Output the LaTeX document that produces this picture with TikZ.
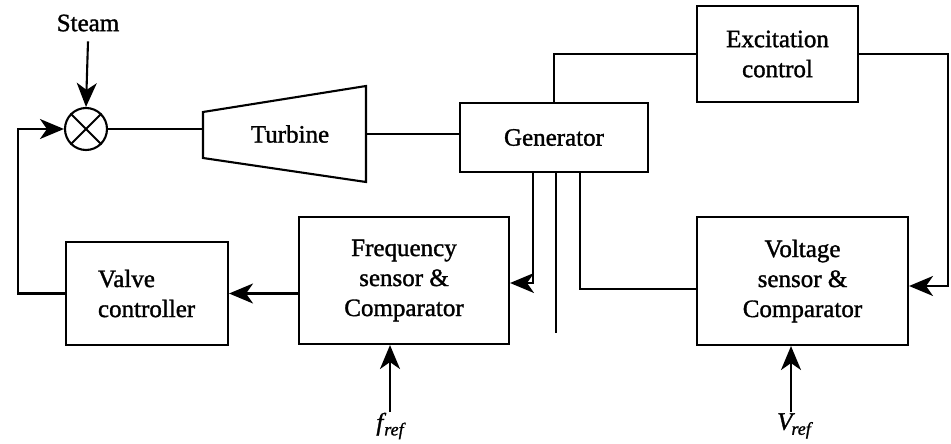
\documentclass[tikz,border=0pt]{standalone}
\usepackage{fontspec}
\setmainfont{Liberation Serif}[RawFeature={embolden=1.3}]
\usetikzlibrary{arrows.meta}
\begin{document}
\begin{tikzpicture}[x=1pt,y=-1pt,
  line width=2.1pt,
  every node/.style={font=\fontsize{25}{30}\selectfont, inner sep=0pt},
  blk/.style={draw, align=center},
  arr/.style={-{Stealth[length=24pt,width=20pt,inset=7pt]}},
  lbl/.style={}]
\useasboundingbox (0,0) rectangle (951,444);
% summing junction
\node[circle, draw, minimum size=42pt] (sum) at (86,129) {};
\draw (sum.north west) -- (sum.south east);
\draw (sum.north east) -- (sum.south west);
\node[lbl] (steam) at (88,23) {Steam};
% turbine
\coordinate (tl) at (203,129);
\coordinate (tr) at (366,134);
\draw[line join=miter] (203,112) -- (366,86) -- (366,182) -- (203,158) -- cycle;
\node[lbl] (turb) at (290,134) {Turbine};
% blocks
\node[blk, minimum width=188pt, minimum height=69pt] (gen) at (554,137.5) {Generator};
\node[blk, minimum width=161pt, minimum height=96pt] (exc) at (777.5,54) {Excitation\\control};
\node[blk, minimum width=210pt, minimum height=127pt] (freq) at (404,280.5) {Frequency\\sensor \&\\Comparator};
\node[blk, minimum width=211pt, minimum height=128pt] (volt) at (802.5,281) {Voltage\\sensor \&\\Comparator};
\node[draw, minimum width=162pt, minimum height=103pt, text width=98pt, align=left] (valve) at (147,293.5) {Valve\\controller};
\node[lbl] (fref) at (390,426) {\itshape f\kern1pt\raisebox{-5pt}{\fontsize{18}{20}\selectfont ref}};
\node[lbl] (vref) at (794,426) {\itshape V\kern-1pt\raisebox{-5pt}{\fontsize{18}{20}\selectfont ref}};
% coordinates
\coordinate (g1) at (533,172);
\coordinate (g2) at (556,172);
\coordinate (g2e) at (556,333);
\coordinate (g3) at (580,172);
\coordinate (rc) at (948,286);
\coordinate (fb) at (18,129);
% connectors
\draw[arr] ([yshift=-9pt]steam.south) -- (sum.north);
\draw (sum.east) -- (tl);
\draw (tr) -- (tr -| gen.west);
\draw (gen.north) |- (exc.west);
\draw[arr] (exc.east) -| (rc) -- ([yshift=-5pt]volt.east);
\draw[arr] (g1) |- ([yshift=-2.5pt]freq.east);
\draw (g2) -- (g2e);
\draw (g3) |- ([yshift=-8pt]volt.west);
\draw[arr] (freq.west |- valve.east) -- (valve.east);
\draw[arr] (valve.west) -| (fb) -- (sum.west);
\draw[arr] (390,412) -- (freq.south -| 390,0);
\draw[arr] (791,412) -- (volt.south -| 791,0);
\end{tikzpicture}
\end{document}
